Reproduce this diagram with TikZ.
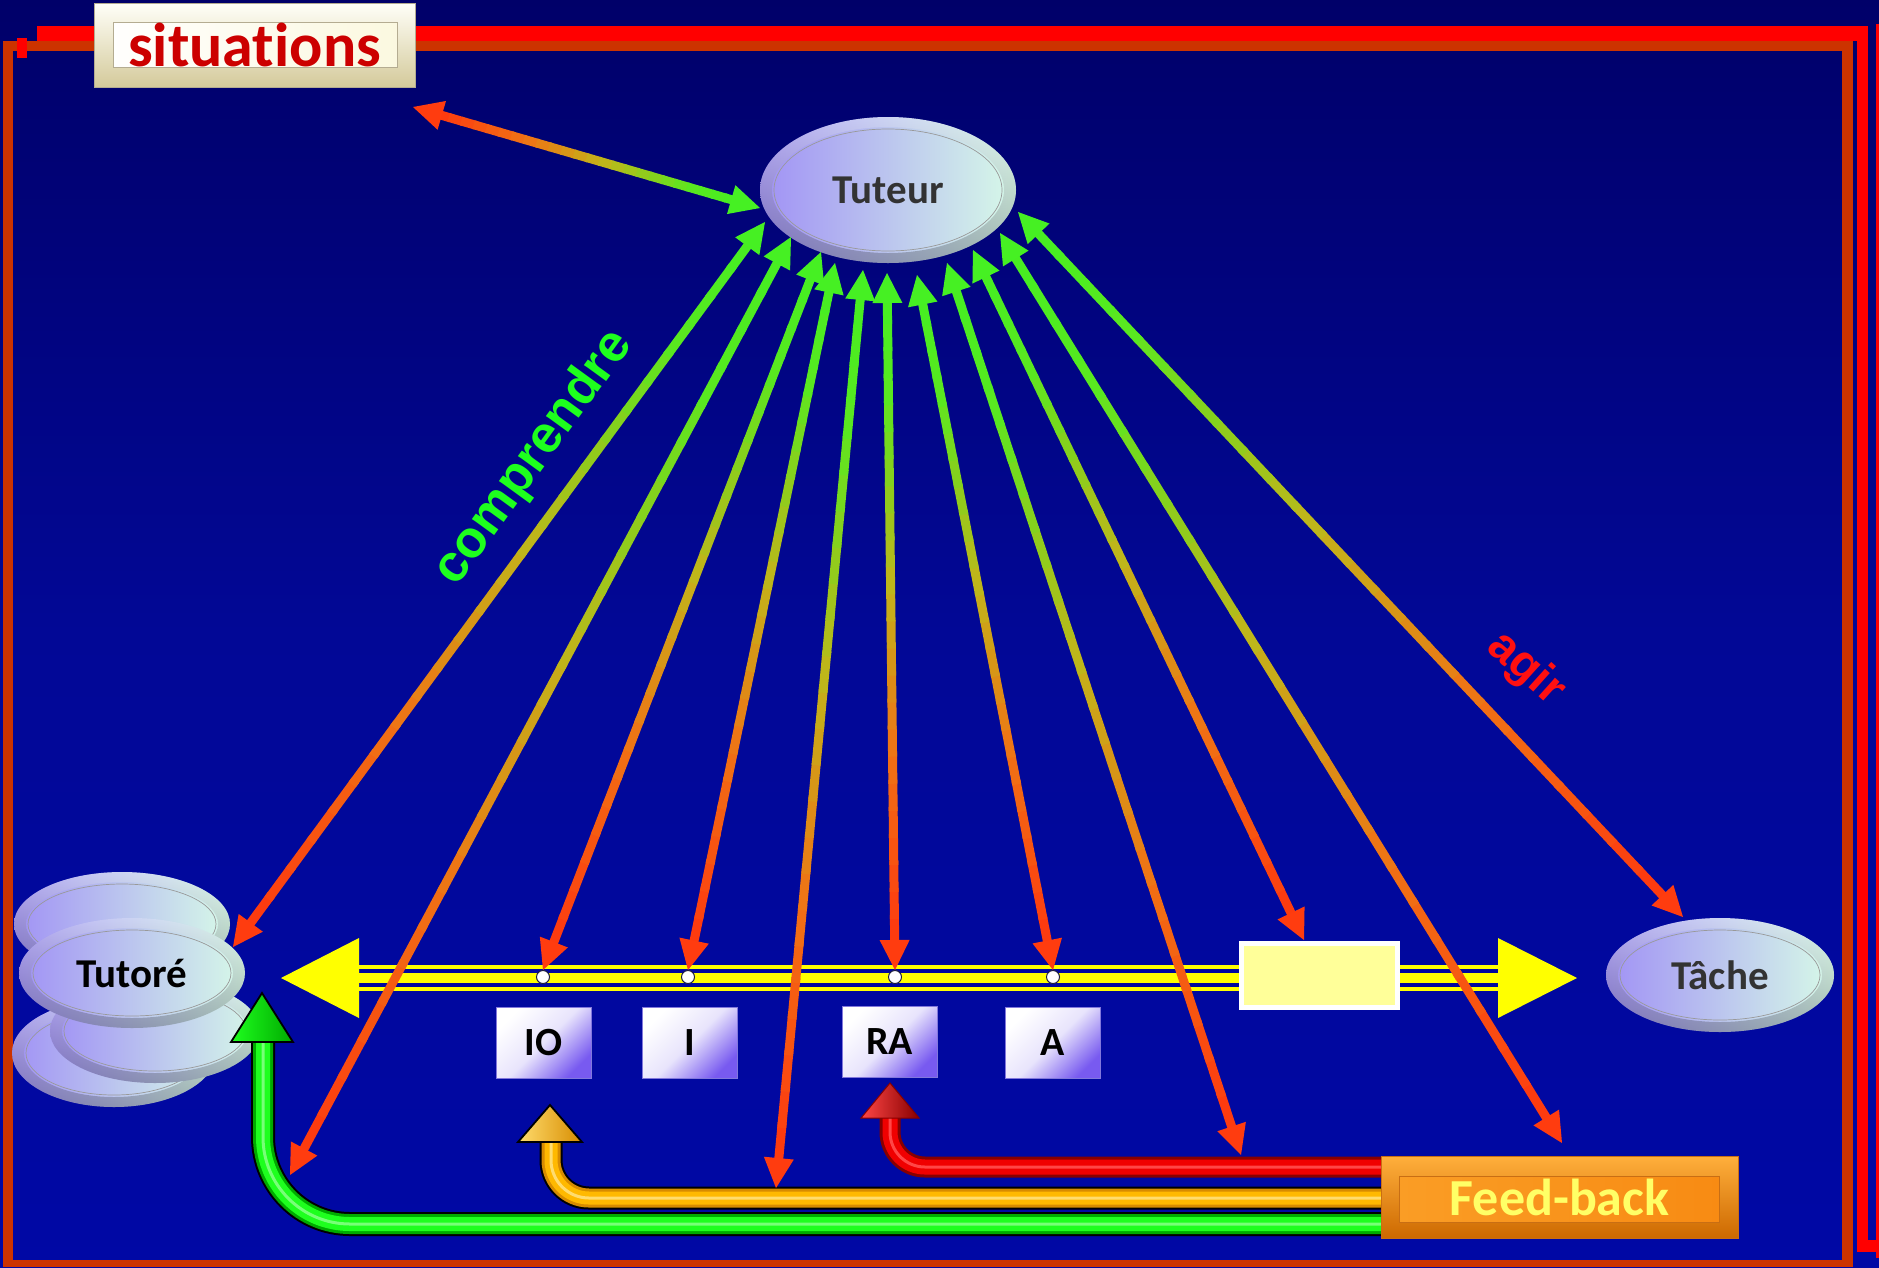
\documentclass[tikz,border=0pt]{standalone}
\usepackage{fontspec}
\setmainfont{Carlito}[Ligatures=NoCommon]
\newfontfamily\lsans{Liberation Sans}
\usetikzlibrary{calc,shapes.geometric}

\definecolor{bgtop}{RGB}{0,0,105}
\definecolor{bgmid}{RGB}{2,8,150}
\definecolor{bgbot}{RGB}{0,8,165}
\definecolor{frOr}{RGB}{204,51,0}
\definecolor{frRed}{RGB}{255,0,0}
\definecolor{headR}{RGB}{255,60,15}
\definecolor{headG}{RGB}{70,240,35}
\definecolor{lav}{RGB}{160,145,245}
\definecolor{mint}{RGB}{215,250,232}
\definecolor{txtgray}{RGB}{51,51,51}
\definecolor{ylw}{RGB}{255,255,0}
\definecolor{yboxfill}{RGB}{255,255,153}
\definecolor{boxpur}{RGB}{120,90,240}
\definecolor{boxmid}{RGB}{232,228,252}
\definecolor{boxedge}{RGB}{130,120,220}
\definecolor{dotedge}{RGB}{30,30,60}
\definecolor{fbtext}{RGB}{255,255,102}
\definecolor{fbtop}{RGB}{255,175,60}
\definecolor{fbbot}{RGB}{205,105,0}
\definecolor{fbface1}{RGB}{250,158,38}
\definecolor{fbface2}{RGB}{248,138,18}
\definecolor{fbline}{RGB}{200,110,20}
\definecolor{sittop}{RGB}{255,255,248}
\definecolor{sitbot}{RGB}{212,202,155}
\definecolor{sitface}{RGB}{251,248,222}
\definecolor{sitline}{RGB}{180,172,145}
\definecolor{sittext}{RGB}{204,0,0}
\definecolor{compgreen}{RGB}{30,255,30}
\definecolor{agirred}{RGB}{255,16,16}
\definecolor{tubeGd}{RGB}{0,170,0}
\definecolor{tubeG}{RGB}{30,255,30}
\definecolor{tubeGl}{RGB}{120,255,120}
\definecolor{tubeOd}{RGB}{215,140,0}
\definecolor{tubeO}{RGB}{255,185,0}
\definecolor{tubeOl}{RGB}{255,220,110}
\definecolor{tubeR}{RGB}{240,0,0}
\definecolor{tubeRd}{RGB}{135,0,0}
\definecolor{tubeRl}{RGB}{255,70,70}

\tikzset{
  oval/.style={ellipse, inner sep=0pt, left color=lav, right color=mint, draw=none,
    font=\bfseries\fontsize{41}{48}\selectfont},
  lbox/.style={rectangle, inner sep=0pt, minimum width=95pt, minimum height=71pt,
    top color=white, bottom color=boxpur, middle color=boxmid, shading angle=45,
    draw=boxedge, line width=0.8pt, font=\bfseries\fontsize{40}{48}\selectfont},
  dotn/.style={circle, fill=white, draw=dotedge, line width=1pt, minimum size=13pt, inner sep=0pt},
  sitbox/.style={rectangle, inner sep=0pt, minimum width=321pt, minimum height=84pt,
    top color=sittop, bottom color=sitbot, draw=sitline, line width=0.6pt,
    text=sittext, font=\bfseries\fontsize{62}{70}\selectfont,
    path picture={\draw[sitline, line width=0.8pt, left color=white, right color=sitface]
      ([shift={(19pt,20pt)}]path picture bounding box.south west) rectangle
      ([shift={(-18pt,-19pt)}]path picture bounding box.north east);}},
  fbbox/.style={rectangle, inner sep=0pt, minimum width=357pt, minimum height=82pt,
    top color=fbtop, bottom color=fbbot, draw=fbline, line width=0.8pt,
    text=fbtext, font=\bfseries\fontsize{52}{60}\selectfont,
    path picture={\draw[fbline, line width=0.8pt, left color=fbface1, right color=fbface2]
      ([shift={(18pt,16pt)}]path picture bounding box.south west) rectangle
      ([shift={(-19pt,-20pt)}]path picture bounding box.north east);}},
  ybx/.style={rectangle, inner sep=0pt, minimum width=156pt, minimum height=64pt,
    fill=yboxfill, draw=white, line width=5pt},
}

\newcommand\ovaldeco[3]{%
  \shade[top color=white, bottom color=black, fill opacity=0.25, even odd rule]
    (#1.center) ellipse [x radius=#2pt, y radius=#3pt]
    (#1.center) ellipse [x radius=#2pt-12pt, y radius=#3pt-10pt];
  \draw[black!40, line width=0.7pt] (#1.center) ellipse [x radius=#2pt-14pt, y radius=#3pt-12pt];
}

\newcommand\fanarrow[2]{%
  \coordinate (faS) at ($(#1)!24pt!(#2)$);
  \coordinate (faE) at ($(#2)!24pt!(#1)$);
  \foreach \k in {0,...,23}{%
    \pgfmathsetmacro\fat{(\k+0.5)/24}%
    \pgfmathtruncatemacro\fr{\fat<0.3 ? 255-50*\fat : (\fat<0.55 ? 240-180*(\fat-0.3) : (\fat<0.85 ? 195-350*(\fat-0.55) : 90-133*(\fat-0.85)))}%
    \pgfmathtruncatemacro\fg{\fat<0.3 ? 55+200*\fat : (\fat<0.55 ? 115+260*(\fat-0.3) : (\fat<0.85 ? 180+173*(\fat-0.55) : 232+53*(\fat-0.85)))}%
    \pgfmathtruncatemacro\fb{15+20*\fat}%
    \edef\tmpdef{\noexpand\definecolor{segc}{RGB}{\fr,\fg,\fb}}\tmpdef
    \draw[segc, line width=9pt] ($(faS)!{\k/24}!(faE)$) -- ($(faS)!{(\k+1.15)/24}!(faE)$);
  }%
  \fill[headR] (#1) -- ($(#1)!33.54pt!26.57:(#2)$) -- ($(#1)!33.54pt!-26.57:(#2)$) -- cycle;
  \fill[headG] (#2) -- ($(#2)!33.54pt!26.57:(#1)$) -- ($(#2)!33.54pt!-26.57:(#1)$) -- cycle;
}

\begin{document}
\begin{tikzpicture}[x=1pt,y=-1pt]
\useasboundingbox (0,0) rectangle (1879,1267);
\shade[top color=bgtop, bottom color=bgbot, middle color=bgmid] (0,0) rectangle (1879,1267);

% frame
\fill[frRed] (37,26) rectangle (1868,41);
\fill[frRed] (1857,26) rectangle (1868,1252);
\fill[frRed] (1876,24) rectangle (1879,1258);
\fill[frRed] (1857,1240) rectangle (1879,1252);
\fill[frOr] (3,41) rectangle (1853,51);
\fill[frOr] (3,41) rectangle (13,1267);
\fill[frOr] (3,1260) rectangle (1853,1267);
\fill[frOr] (1842,41) rectangle (1853,1267);
\fill[frRed] (17,38) rectangle (27,58);

% situations
\node[sitbox] (sit) at (254.5,45) {situations};

% yellow double arrow
\coordinate (yL) at (281,978);
\coordinate (yR) at (1577,978);
\draw[ylw, line width=4pt] ([shift={(70pt,11pt)}]yL) -- ([shift={(-70pt,11pt)}]yR);
\draw[ylw, line width=10pt] ([xshift=70pt]yL) -- ([xshift=-70pt]yR);
\draw[ylw, line width=4pt] ([shift={(70pt,-11pt)}]yL) -- ([shift={(-70pt,-11pt)}]yR);
\fill[ylw] (yL) -- ([shift={(78pt,40pt)}]yL) -- ([shift={(78pt,-40pt)}]yL) -- cycle;
\fill[ylw] (yR) -- ([shift={(-79pt,40pt)}]yR) -- ([shift={(-79pt,-40pt)}]yR) -- cycle;
\node[ybx] (ybox) at (1319.5,975.5) {};

% letter boxes and dots
\node[lbox] (bIO) at (543.5,1042.5) {IO};
\node[lbox] (bI) at (690,1043) {I};
\node[lbox] (bRA) at (889.5,1041.5) {RA};
\node[lbox] (bA) at (1053,1042.5) {A};
\node[dotn] (dIO) at (543,977) {};
\node[dotn] (dI) at (688,977) {};
\node[dotn] (dRA) at (895,977) {};
\node[dotn] (dA) at (1053,977) {};

% ellipses
\node[oval, minimum width=256pt, minimum height=146pt, text=txtgray] (tuteur) at (888,190) {Tuteur};
\ovaldeco{tuteur}{128}{73}
\node[oval, minimum width=228pt, minimum height=114pt, text=txtgray] (tache) at (1720,975) {Tâche};
\ovaldeco{tache}{114}{57}
\node[oval, minimum width=204pt, minimum height=108pt] (tutA) at (114,1053) {};
\ovaldeco{tutA}{102}{54}
\node[oval, minimum width=210pt, minimum height=104pt] (tutB) at (155,1031) {};
\ovaldeco{tutB}{105}{52}
\node[oval, minimum width=216pt, minimum height=104pt] (tutC) at (122,924) {};
\ovaldeco{tutC}{108}{52}
\node[oval, minimum width=226pt, minimum height=110pt, text=black] (tutore) at (132,973) {Tutoré};
\ovaldeco{tutore}{113}{55}

% feedback tubes
\coordinate (gS) at (1390,1224); \coordinate (gE) at (263,1040); \coordinate (gT) at (262,993);
\coordinate (oS) at (1390,1198); \coordinate (oE) at (551,1140); \coordinate (oT) at (550,1105);
\coordinate (rS) at (1390,1167); \coordinate (rE) at (890,1116); \coordinate (rT) at (890,1083);

\draw[black, line width=24pt, rounded corners=87pt] (gS) -- (gE |- gS) -- (gE);
\draw[tubeGd, line width=20pt, rounded corners=87pt] (gS) -- (gE |- gS) -- (gE);
\draw[tubeG, line width=14pt, rounded corners=87pt, xshift=-1pt, yshift=1pt] (gS) -- (gE |- gS) -- (gE);
\draw[tubeGl, line width=3pt, rounded corners=87pt, xshift=-3pt, yshift=3pt] (gS) -- (gE |- gS) -- (gE);
\draw[black, line width=1.8pt, left color=tubeG, right color=tubeGd]
  (gT) -- ([shift={(31pt,-49pt)}]gT) -- ([shift={(-31pt,-49pt)}]gT) -- cycle;

\draw[black, line width=23pt, rounded corners=38pt] (oS) -- (oE |- oS) -- (oE);
\draw[tubeOd, line width=19pt, rounded corners=38pt] (oS) -- (oE |- oS) -- (oE);
\draw[tubeO, line width=13pt, rounded corners=38pt, xshift=-1pt, yshift=1pt] (oS) -- (oE |- oS) -- (oE);
\draw[tubeOl, line width=3pt, rounded corners=38pt, xshift=-3pt, yshift=3pt] (oS) -- (oE |- oS) -- (oE);
\draw[black, line width=1.8pt, left color=tubeOl, right color=tubeOd]
  (oT) -- ([shift={(32pt,-37pt)}]oT) -- ([shift={(-32pt,-37pt)}]oT) -- cycle;

\draw[tubeRd, line width=21pt, rounded corners=35pt] (rS) -- (rE |- rS) -- (rE);
\draw[tubeR, line width=15pt, rounded corners=35pt, xshift=-1pt, yshift=1pt] (rS) -- (rE |- rS) -- (rE);
\draw[tubeRl, line width=3pt, rounded corners=35pt, xshift=-3pt, yshift=3pt] (rS) -- (rE |- rS) -- (rE);
\draw[tubeRd, line width=1pt, left color=tubeRl, right color=tubeRd]
  (rT) -- ([shift={(29pt,-35pt)}]rT) -- ([shift={(-29pt,-35pt)}]rT) -- cycle;

\node[fbbox] (fb) at (1559.5,1197) {Feed-back};

% fan arrows
\coordinate (s1b) at (413,107);   \coordinate (s1t) at (760,208);
\coordinate (a2b) at (233,947);   \coordinate (a2t) at (765,222);
\coordinate (a3b) at (290,1175);  \coordinate (a3t) at (791,237);
\coordinate (a4t) at (821,252);
\coordinate (a5t) at (835,263);
\coordinate (a6b) at (776,1188);  \coordinate (a6t) at (863,270);
\coordinate (a7t) at (887,273);
\coordinate (a8t) at (917,275);
\coordinate (a9b) at (1241,1155); \coordinate (a9t) at (947,263);
\coordinate (a10b) at (1304,940); \coordinate (a10t) at (973,250);
\coordinate (a11b) at (1562,1143);\coordinate (a11t) at (1000,233);
\coordinate (a12b) at (1683,917); \coordinate (a12t) at (1018,212);

\fanarrow{s1b}{s1t}
\fanarrow{a2b}{a2t}
\fanarrow{a3b}{a3t}
\fanarrow{dIO.north}{a4t}
\fanarrow{dI.north}{a5t}
\fanarrow{a6b}{a6t}
\fanarrow{dRA.north}{a7t}
\fanarrow{dA.north}{a8t}
\fanarrow{a9b}{a9t}
\fanarrow{a10b}{a10t}
\fanarrow{a11b}{a11t}
\fanarrow{a12b}{a12t}

% labels
\node[font=\lsans\bfseries\fontsize{52}{60}\selectfont, text=compgreen, rotate=54, inner sep=0pt] (comp) at (534,458) {comprendre};
\node[font=\lsans\bfseries\fontsize{47}{55}\selectfont, text=agirred, rotate=-42, inner sep=0pt] (agir) at (1526,669) {agir};
\end{tikzpicture}
\end{document}
